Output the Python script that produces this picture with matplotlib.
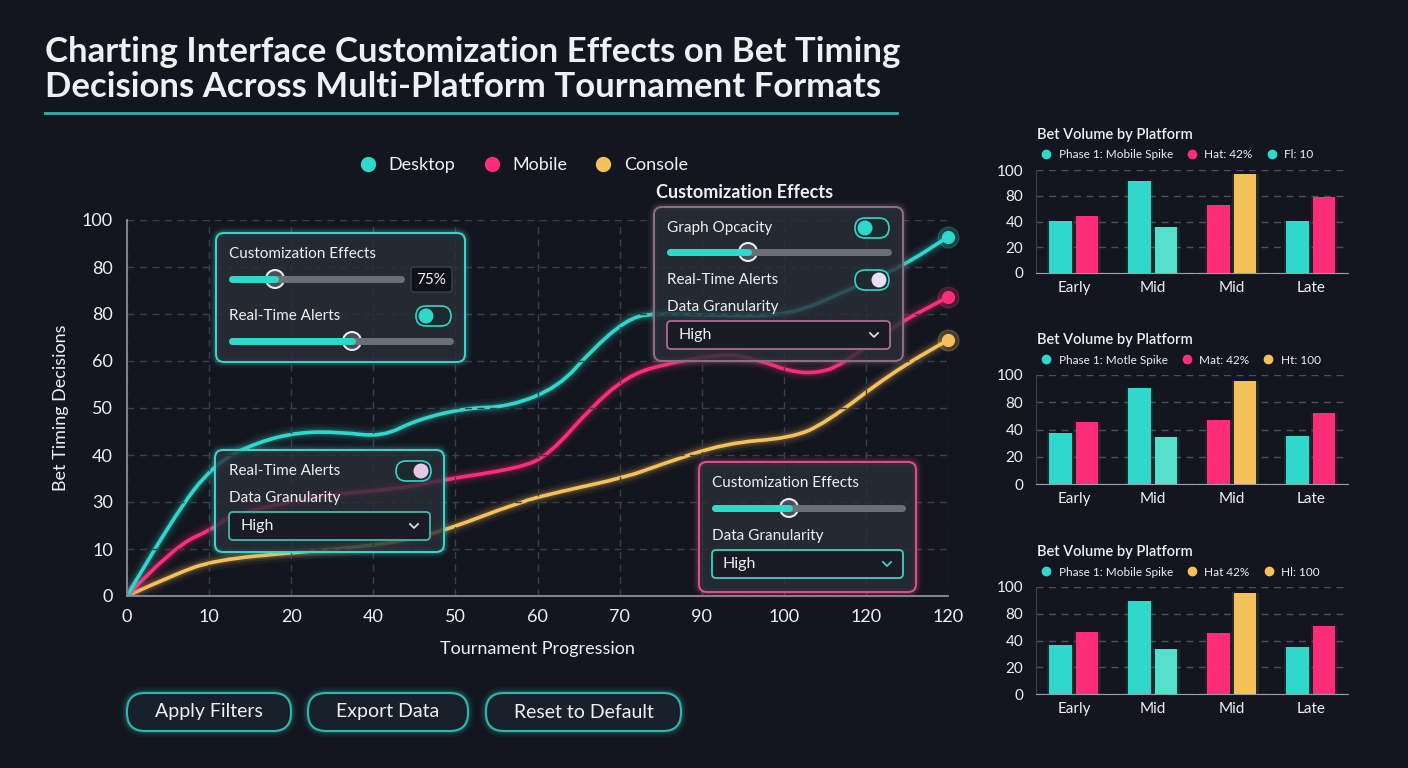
import matplotlib
matplotlib.use("Agg")
import matplotlib.pyplot as plt
from matplotlib.patches import FancyBboxPatch, Circle, PathPatch
from matplotlib.path import Path
from matplotlib.lines import Line2D

W, H = 1408, 768
BG = '#13161f'
TEAL = '#2fd8cb'
LIGHT_TEAL = '#55e0cc'
PINK = '#ff2d78'
GOLD = '#f5c15a'
WHITE = '#eef0f3'
GRID = '#3a3f4a'

plt.rcParams['font.family'] = ['Lato', 'DejaVu Sans']

# main chart: tournament progression (tick slots) vs bet timing decisions
x_tick_labels = ['0', '10', '20', '40', '50', '60', '70', '90', '100', '120', '120']
y_tick_labels = ['0', '10', '30', '40', '50', '60', '80', '80', '100']

desktop_x = [0, 0.56, 1.07, 1.6, 2.10, 2.6, 3.11, 3.52, 4.12, 4.65, 5.26, 5.66, 6.08, 6.39, 7.29, 8.09, 8.78, 9.43, 10]
desktop_y = [0, 21.0, 35.4, 41.0, 43.6, 43.6, 42.3, 46.8, 50.0, 50.3, 55.6, 65.4, 73.4, 75.3, 74.5, 74.7, 81.4, 87.5, 95.5]

mobile_x = [0, 0.56, 1.07, 1.25, 2.38, 3.32, 3.84, 4.78, 5.14, 5.66, 6.08, 6.48, 7.29, 7.69, 8.09, 8.42, 8.70, 9.31, 10]
mobile_y = [0, 13.0, 18.1, 21.5, 26.9, 28.5, 30.9, 34.0, 37.5, 50.3, 58.2, 61.4, 64.6, 62.8, 59.6, 59.3, 61.4, 71.5, 79.5]

console_x = [0, 0.56, 1.07, 2.10, 3.11, 3.80, 4.78, 5.26, 6.08, 6.48, 7.29, 8.09, 8.51, 9.31, 10]
console_y = [0, 5.6, 9.6, 11.7, 13.6, 16.8, 25.0, 27.7, 31.6, 34.8, 40.7, 42.0, 46.0, 59.3, 68.1]

# side bar charts: bet volume by platform
phases = ['Early', 'Mid', 'Mid', 'Late']
bar_y_labels = ['0', '20', '40', '80', '100']
left_colors = [TEAL, TEAL, PINK, TEAL]
right_colors = [PINK, LIGHT_TEAL, GOLD, PINK]

vol1_left = [50.8, 89.0, 65.6, 50.6]
vol1_right = [55.3, 44.3, 96.5, 73.4]
vol2_left = [46.6, 87.8, 59.1, 43.9]
vol2_right = [56.7, 43.0, 94.7, 65.5]
vol3_left = [45.8, 87.3, 56.9, 43.9]
vol3_right = [58.2, 41.8, 94.4, 63.7]

legend1 = [('Phase 1: Mobile Spike', TEAL), ('Hat: 42%', PINK), ('Fl: 10', TEAL)]
legend2 = [('Phase 1: Motle Spike', TEAL), ('Mat: 42%', PINK), ('Ht: 100', GOLD)]
legend3 = [('Phase 1: Mobile Spike', TEAL), ('Hat 42%', GOLD), ('Hl: 100', GOLD)]


def fx(px):
    return px / W


def fy(py):
    return 1 - py / H


def box(px0, py0, px1, py1):
    return [fx(px0), fy(py1), fx(px1) - fx(px0), fy(py0) - fy(py1)]


def smooth_path(xs, ys):
    # quadratic segments through midpoints, so corners are rounded off
    pts = list(zip(xs, ys))
    verts = [pts[0]]
    codes = [Path.MOVETO]
    for i in range(1, len(pts) - 1):
        mid = ((pts[i][0] + pts[i + 1][0]) / 2, (pts[i][1] + pts[i + 1][1]) / 2)
        verts += [pts[i], mid]
        codes += [Path.CURVE3, Path.CURVE3]
    verts.append(pts[-1])
    codes.append(Path.LINETO)
    return Path(verts, codes)


fig = plt.figure(figsize=(W / 100, H / 100), dpi=100)
fig.patch.set_facecolor(BG)

# title
fig.text(fx(45), fy(52), 'Charting Interface Customization Effects on Bet Timing',
         fontsize=25, fontweight='bold', color=WHITE, va='center')
fig.text(fx(45), fy(87), 'Decisions Across Multi-Platform Tournament Formats',
         fontsize=25, fontweight='bold', color=WHITE, va='center')

# main line chart
ax = fig.add_axes(box(127, 220, 948, 596))
ax.set_facecolor('none')
ax.set_xlim(0, 10)
ax.set_ylim(0, 100)
ax.set_xticks(range(11))
ax.set_xticklabels(x_tick_labels)
ax.set_yticks([i * 12.5 for i in range(9)])
ax.set_yticklabels(y_tick_labels)
ax.tick_params(length=0, colors=WHITE, labelsize=13)
ax.tick_params(axis='y', pad=10)
ax.tick_params(axis='x', pad=9)
ax.grid(True, color=GRID, linestyle=(0, (5, 4)), linewidth=1)
for s in ['top', 'right']:
    ax.spines[s].set_visible(False)
for s in ['left', 'bottom']:
    ax.spines[s].set_color('#8a909a')
    ax.spines[s].set_linewidth(1.3)
ax.set_xlabel('Tournament Progression', color=WHITE, fontsize=13, labelpad=12)
ax.set_ylabel('Bet Timing Decisions', color=WHITE, fontsize=13, labelpad=9)

for xs, ys, c in [(console_x, console_y, GOLD), (mobile_x, mobile_y, PINK), (desktop_x, desktop_y, TEAL)]:
    for lw, a in [(12, 0.05), (8, 0.09), (5, 0.16), (2.6, 1.0)]:
        ax.add_patch(PathPatch(smooth_path(xs, ys), fc='none', ec=c, lw=lw, alpha=a,
                               capstyle='round', joinstyle='round'))
    ax.plot(xs[-1], ys[-1], 'o', color=c, ms=15, alpha=0.22, clip_on=False)
    ax.plot(xs[-1], ys[-1], 'o', color=c, ms=8.5, clip_on=False)

handles = [Line2D([], [], marker='o', ls='', color=c, ms=10) for c in [TEAL, PINK, GOLD]]
fig.legend(handles, ['Desktop', 'Mobile', 'Console'], loc='center',
           bbox_to_anchor=(fx(519), fy(165)), ncol=3, frameon=False,
           handletextpad=0.15, columnspacing=1.0, fontsize=13, labelcolor=WHITE)

# side bar charts
bar_sets = [
    (vol1_left, vol1_right, legend1, 170, 273),
    (vol2_left, vol2_right, legend2, 375, 484),
    (vol3_left, vol3_right, legend3, 587, 694),
]
for left_vals, right_vals, leg, top, bottom in bar_sets:
    bx = fig.add_axes(box(1036, top, 1348, bottom))
    bx.set_facecolor('none')
    pos = list(range(len(phases)))
    lpos = [p - 0.17 for p in pos]
    rpos = [p + 0.17 for p in pos]
    for xs, vals, cols in [(lpos, left_vals, left_colors), (rpos, right_vals, right_colors)]:
        bx.bar(xs, vals, width=0.34, color=cols, alpha=0.1, zorder=2)
        bx.bar(xs, vals, width=0.28, color=cols, zorder=3)
    bx.set_xlim(-0.48, 3.47)
    bx.set_ylim(0, 100)
    bx.set_xticks(pos)
    bx.set_xticklabels(phases)
    bx.set_yticks([0, 25, 50, 75, 100])
    bx.set_yticklabels(bar_y_labels)
    bx.tick_params(length=0, colors=WHITE, labelsize=11)
    bx.tick_params(axis='y', pad=9)
    bx.tick_params(axis='x', pad=6)
    bx.yaxis.grid(True, color='#4a4f59', linestyle=(0, (5, 4)), linewidth=1)
    bx.set_axisbelow(True)
    for s in ['top', 'right']:
        bx.spines[s].set_visible(False)
    bx.spines['bottom'].set_color('#9aa0a8')
    bx.spines['left'].set_color('#3a3f48')
    fig.text(fx(1037), fy(top - 35), 'Bet Volume by Platform', fontsize=10.5,
             color=WHITE, va='center', fontweight='semibold')
    hs = [Line2D([], [], marker='o', ls='', color=c, ms=6) for _, c in leg]
    fig.legend(hs, [t for t, _ in leg], loc='center left',
               bbox_to_anchor=(fx(1024), fy(top - 15)), ncol=3, frameon=False,
               handletextpad=0.05, columnspacing=0.6, fontsize=8.5, labelcolor=WHITE)

# overlay for the UI widgets
ov = fig.add_axes([0, 0, 1, 1], zorder=5)
ov.set_xlim(0, W)
ov.set_ylim(H, 0)
ov.axis('off')
ov.patch.set_alpha(0)

ov.plot([45, 897], [113, 113], color='#2bb5b0', lw=2)


def rbox(x0, y0, x1, y1, fc, ec, r=8, lw=1.3, glow=False):
    if glow:
        for gl, ga in [(9, 0.05), (6, 0.09), (3.5, 0.16)]:
            ov.add_patch(FancyBboxPatch((x0, y0), x1 - x0, y1 - y0,
                                        boxstyle=f'round,pad=0,rounding_size={r}',
                                        fc='none', ec=ec, lw=gl, alpha=ga))
    ov.add_patch(FancyBboxPatch((x0, y0), x1 - x0, y1 - y0,
                                boxstyle=f'round,pad=0,rounding_size={r}',
                                fc=fc, ec=ec, lw=lw))


def label(x, y, s, size=11, weight='normal', color=WHITE):
    ov.text(x, y, s, fontsize=size, color=color, va='center', ha='left', fontweight=weight)


def slider(x0, x1, y, knob):
    ov.plot([x0, x1], [y, y], color='#6a6f78', lw=5, solid_capstyle='round')
    ov.plot([x0, knob], [y, y], color=TEAL, lw=5, solid_capstyle='round')
    ov.add_patch(Circle((knob, y), 9, fc='#4a4e57', ec='#e8eaee', lw=1.5))


def toggle(x0, x1, yc, knob_right, knob_color):
    rbox(x0, yc - 10, x1, yc + 10, '#1c2a30', TEAL, r=10, lw=1.2)
    kx = x1 - 10 if knob_right else x0 + 10
    ov.add_patch(Circle((kx, yc), 7.5, fc=knob_color, ec='none'))


def dropdown(x0, y0, x1, y1, ec, chev):
    rbox(x0, y0, x1, y1, '#191c25', ec, r=4, lw=1.3)
    label(x0 + 11, (y0 + y1) / 2, 'High', size=11.5)
    cx, cy = x1 - 16, (y0 + y1) / 2
    ov.plot([cx - 4, cx, cx + 4], [cy - 2, cy + 2, cy - 2], color=chev, lw=1.3)


PANEL = (0.16, 0.18, 0.22, 0.8)

# panel 1
rbox(216, 233, 465, 362, PANEL, '#3fd6cb', r=8, lw=1.4, glow=True)
label(229, 254, 'Customization Effects')
slider(232, 401, 279, 275)
rbox(411, 267, 452, 292, '#0f1218', '#3a3f48', r=3, lw=1)
label(416, 280, '75%', size=11)
label(229, 316, 'Real-Time Alerts')
toggle(416, 451, 316, False, TEAL)
slider(232, 450, 341, 352)

# panel 2
rbox(215, 450, 444, 552, PANEL, '#3fd6cb', r=8, lw=1.4, glow=True)
label(229, 471, 'Real-Time Alerts')
toggle(396, 431, 471, True, '#e8c6e6')
label(229, 498, 'Data Granularity')
dropdown(229, 512, 430, 540, '#3fb8b0', '#d8dde2')

# panel 3
label(656, 193, 'Customization Effects', size=13, weight='bold')
rbox(654, 207, 903, 361, PANEL, '#8d6f86', r=8, lw=1.4, glow=True)
label(667, 228, 'Graph Opcacity')
toggle(855, 889, 228, False, TEAL)
slider(670, 888, 252, 748)
label(667, 280, 'Real-Time Alerts')
toggle(855, 889, 280, True, '#e6e0f2')
label(667, 307, 'Data Granularity')
dropdown(667, 321, 890, 349, '#b06b95', '#d8dde2')

# panel 4
rbox(699, 462, 916, 592, PANEL, '#e0508f', r=8, lw=1.4, glow=True)
label(712, 483, 'Customization Effects')
slider(715, 902, 508, 789)
label(712, 536, 'Data Granularity')
dropdown(712, 550, 903, 578, '#3fd0c4', TEAL)

# buttons
for (bx0, bx1), txt in zip([(127, 291), (308, 468), (486, 681)],
                           ['Apply Filters', 'Export Data', 'Reset to Default']):
    rbox(bx0, 693, bx1, 731, '#18202a', '#2fb8b0', r=18, lw=1.5, glow=True)
    ov.text((bx0 + bx1) / 2, 712, txt, fontsize=14, color=WHITE, ha='center', va='center')

fig.savefig('out.png', dpi=100, facecolor=BG)
